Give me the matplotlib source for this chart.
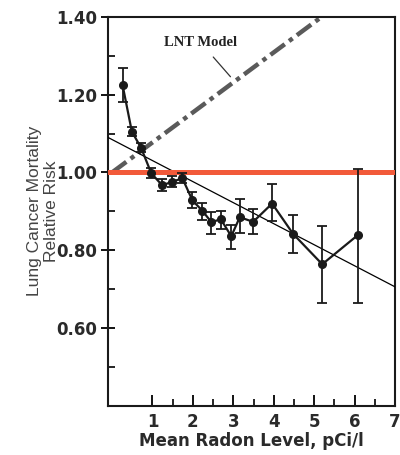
import matplotlib
matplotlib.use("Agg")
import matplotlib.pyplot as plt
from matplotlib.ticker import FixedLocator, FormatStrFormatter

# county-level radon survey, relative risk with error bars
radon = [0.26, 0.49, 0.72, 0.97, 1.24, 1.49, 1.74, 1.99, 2.23, 2.46,
         2.69, 2.95, 3.16, 3.49, 3.96, 4.48, 5.2, 6.08]
risk = [1.225, 1.105, 1.063, 0.998, 0.967, 0.976, 0.985, 0.928, 0.902, 0.872,
        0.880, 0.836, 0.885, 0.873, 0.920, 0.842, 0.764, 0.839]
err_hi = [1.268, 1.118, 1.075, 1.012, 0.982, 0.990, 0.998, 0.951, 0.922, 0.898,
          0.902, 0.865, 0.932, 0.905, 0.971, 0.891, 0.863, 1.010]
err_lo = [1.180, 1.093, 1.052, 0.985, 0.952, 0.962, 0.972, 0.908, 0.879, 0.842,
          0.855, 0.803, 0.844, 0.843, 0.876, 0.792, 0.664, 0.664]

# least-squares trend line endpoints
fit_x = [-0.1, 7.0]
fit_y = [1.09, 0.706]

# linear no-threshold prediction
lnt_x = [0.0, 7.0]
lnt_y = [1.0, 1.54]

baseline = 1.0

fig = plt.figure(figsize=(4.0, 4.55), dpi=100)
ax = fig.add_axes([0.27, 0.108, 0.7175, 0.855])

ax.plot(lnt_x, lnt_y, color="#5a5a5a", lw=3.2, dashes=(4, 1.2, 1.0, 1.2),
        solid_capstyle="butt", zorder=2)
ax.plot(fit_x, fit_y, color="black", lw=0.9, zorder=3)
ax.axhline(baseline, color="#f25a3a", lw=3.6, zorder=4)

yerr = [[r - lo for r, lo in zip(risk, err_lo)],
        [hi - r for r, hi in zip(risk, err_hi)]]
ax.errorbar(radon, risk, yerr=yerr, color="#1a1a1a", lw=1.6, marker="o",
            ms=5.5, capsize=3.5, elinewidth=1.3, capthick=1.3, zorder=5)

ax.annotate("LNT Model", xy=(2.93, 1.246), xytext=(2.19, 1.334),
            ha="center", va="center", fontsize=10.5, fontweight="bold",
            family="Liberation Serif", color="#222222",
            arrowprops=dict(arrowstyle="-", color="#333333", lw=0.9,
                            shrinkA=5, shrinkB=0))

ax.set_xlim(-0.1, 7.0)
ax.set_ylim(0.4, 1.4)
ax.xaxis.set_major_locator(FixedLocator([1, 2, 3, 4, 5, 6, 7]))
ax.xaxis.set_minor_locator(FixedLocator([1.5, 2.5, 3.5, 4.5, 5.5, 6.5]))
ax.yaxis.set_major_locator(FixedLocator([0.6, 0.8, 1.0, 1.2, 1.4]))
ax.yaxis.set_minor_locator(FixedLocator([0.5, 0.7, 0.9, 1.1, 1.3]))
ax.yaxis.set_major_formatter(FormatStrFormatter("%.2f"))

ax.tick_params(which="major", direction="in", length=8, width=1.3, pad=5)
ax.tick_params(which="minor", direction="in", length=5, width=1.2)
ax.tick_params(axis="y", which="major", direction="inout", length=10, pad=3)
for lab in ax.get_xticklabels() + ax.get_yticklabels():
    lab.set_fontfamily("DejaVu Sans")
    lab.set_fontweight("bold")
    lab.set_fontsize(12)
    lab.set_color("#2a2a2a")

for sp in ax.spines.values():
    sp.set_linewidth(1.5)
    sp.set_color("#1a1a1a")

ax.set_xlabel("Mean Radon Level, pCi/l", family="DejaVu Sans",
              fontweight="bold", fontsize=12, color="#2a2a2a", labelpad=1)
ax.set_ylabel("Lung Cancer Mortality\nRelative Risk", family="Liberation Sans",
              fontsize=12.5, color="#444444", labelpad=-2, linespacing=1.1)

fig.savefig("out.png", dpi=100)
